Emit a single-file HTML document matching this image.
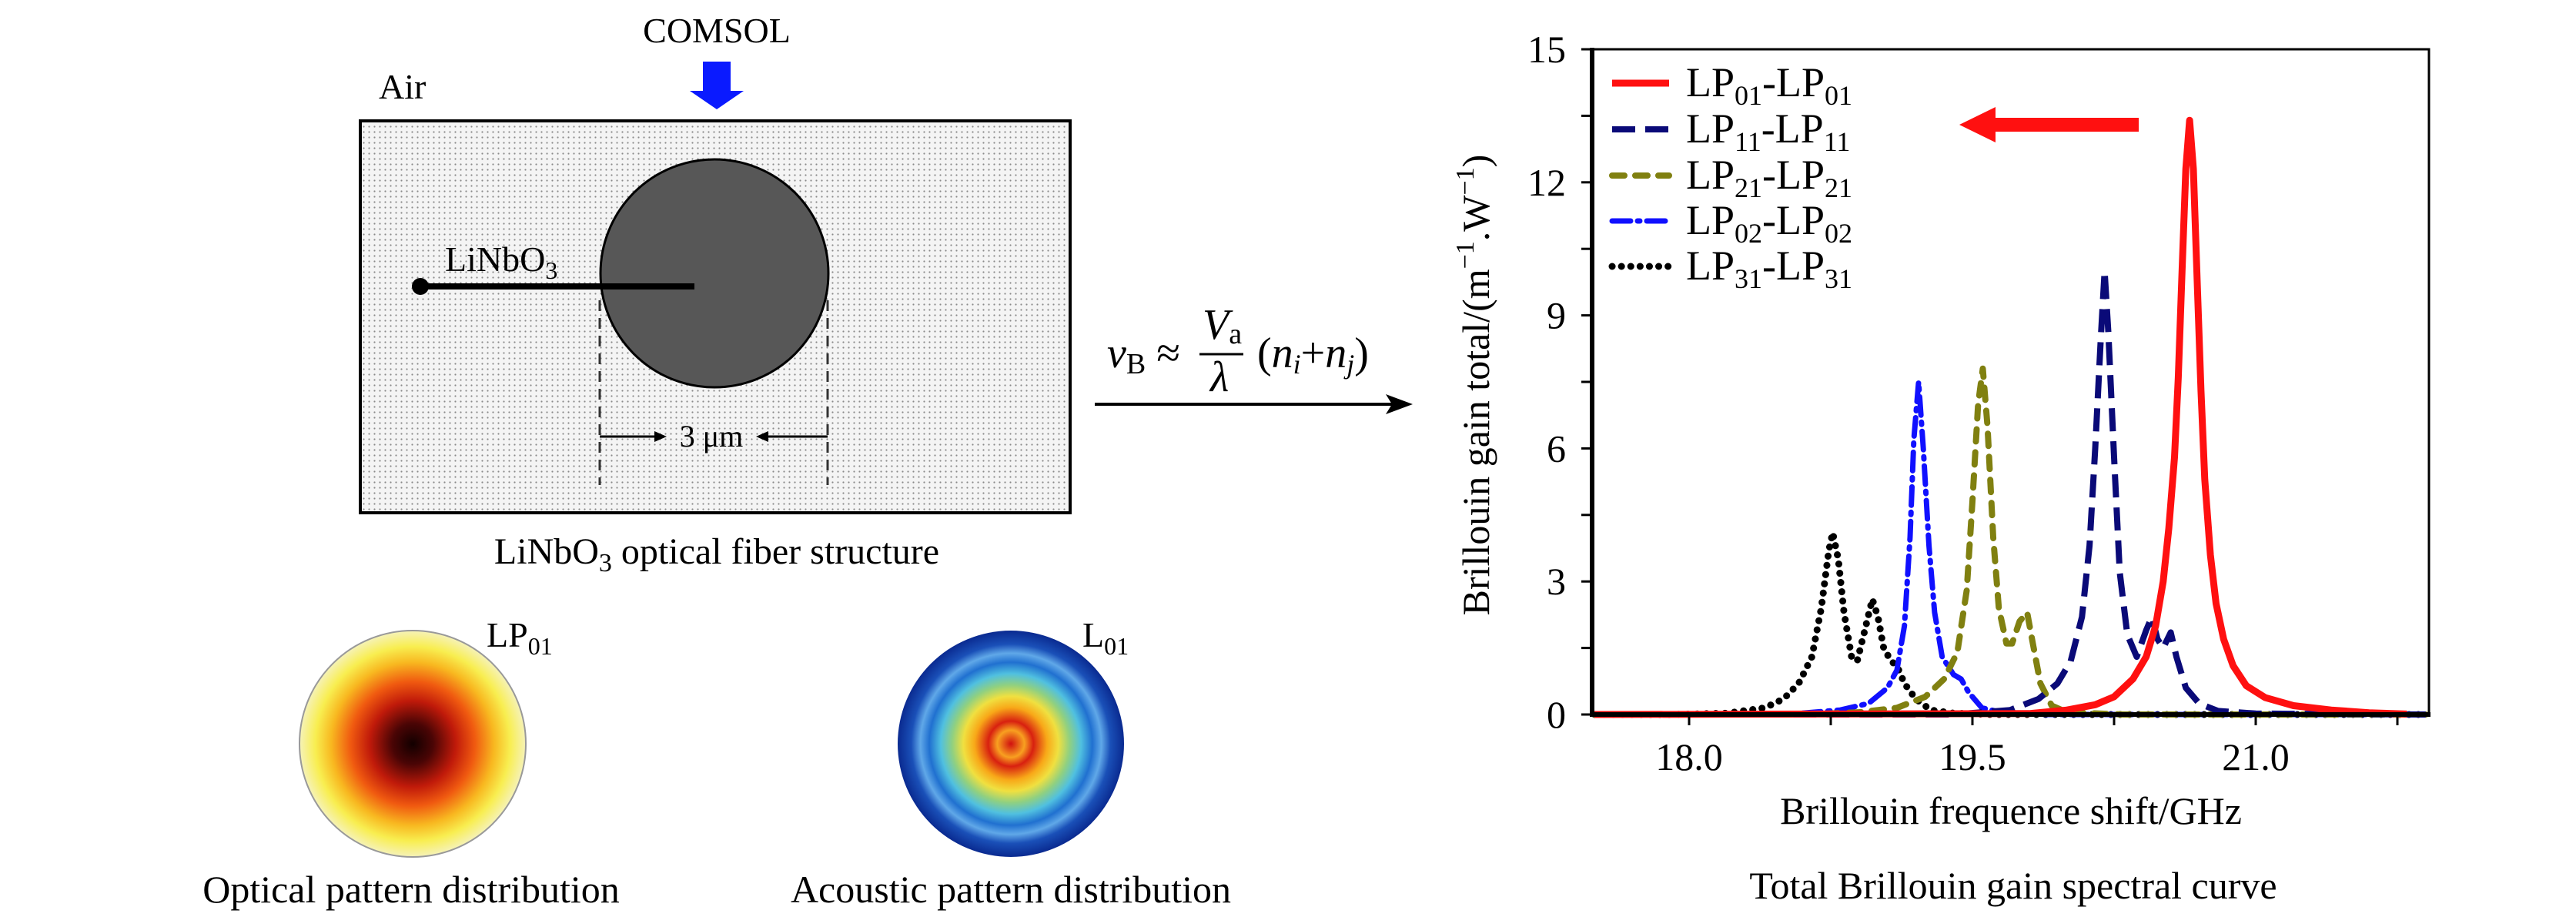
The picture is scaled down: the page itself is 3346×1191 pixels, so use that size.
<!DOCTYPE html>
<html><head><meta charset="utf-8"><style>
html,body{margin:0;padding:0;background:#fff;}
svg{display:block;font-family:"Liberation Serif",serif;}
</style></head><body>
<svg id="fig" xmlns="http://www.w3.org/2000/svg" width="3346" height="1191" viewBox="0 0 3346 1191">
<defs>
<pattern id="dots" width="7" height="7" patternUnits="userSpaceOnUse"><rect width="7" height="7" fill="#f4f4f4"/><circle cx="3.5" cy="3.5" r="1.1" fill="#8a8a8a"/></pattern>
<radialGradient id="optg"><stop offset="0" stop-color="#120000"/><stop offset="0.18" stop-color="#4a0505"/><stop offset="0.38" stop-color="#c01a0a"/><stop offset="0.55" stop-color="#f05a10"/><stop offset="0.72" stop-color="#f8b820"/><stop offset="0.86" stop-color="#f8ee50"/><stop offset="1" stop-color="#f6f2b8"/></radialGradient>
<radialGradient id="acg"><stop offset="0" stop-color="#d01010"/><stop offset="0.12" stop-color="#f8a020"/><stop offset="0.2" stop-color="#d82010"/><stop offset="0.32" stop-color="#f8a818"/><stop offset="0.42" stop-color="#f0e040"/><stop offset="0.52" stop-color="#90d080"/><stop offset="0.62" stop-color="#50c0e0"/><stop offset="0.72" stop-color="#2070d0"/><stop offset="0.8" stop-color="#60a8e8"/><stop offset="0.88" stop-color="#1a50b8"/><stop offset="1" stop-color="#0a2a90"/></radialGradient>
</defs>

<text x="931" y="55" font-size="46" text-anchor="middle">COMSOL</text>
<g><rect x="913" y="80" width="36" height="40" fill="#0a1aff"/><polygon points="896,118 966,118 931,142" fill="#0a1aff"/></g>
<text x="492" y="128" font-size="46">Air</text>
<rect x="468" y="157" width="922" height="509" fill="url(#dots)" stroke="#000" stroke-width="4"/>
<circle cx="928" cy="355" r="148" fill="#575757" stroke="#000" stroke-width="3"/>
<line x1="546" y1="372" x2="902" y2="372" stroke="#000" stroke-width="8"/>
<circle cx="546" cy="372" r="11" fill="#000"/>
<text x="578" y="352" font-size="46">LiNbO<tspan font-size="32" dy="10">3</tspan></text>
<line x1="779" y1="390" x2="779" y2="630" stroke="#333" stroke-width="3" stroke-dasharray="14,9"/>
<line x1="1075" y1="390" x2="1075" y2="630" stroke="#333" stroke-width="3" stroke-dasharray="14,9"/>
<g>
<line x1="779" y1="567" x2="858" y2="567" stroke="#000" stroke-width="3"/><polygon points="866,567 850,560 850,574"/>
<line x1="990" y1="567" x2="1075" y2="567" stroke="#000" stroke-width="3"/><polygon points="982,567 998,560 998,574"/>
<text x="924" y="580" font-size="40" text-anchor="middle">3 μm</text></g>
<text x="931" y="732" font-size="48" text-anchor="middle">LiNbO<tspan font-size="34" dy="10">3</tspan><tspan dy="-10"> optical fiber structure</tspan></text>

<g font-style="italic">
<text x="1438" y="477" font-size="56">v<tspan font-style="normal" font-size="38" dy="8">B</tspan><tspan font-style="normal" dy="-8"> ≈</tspan></text>
<text x="1562" y="440" font-size="56">V<tspan font-style="normal" font-size="38" dy="6">a</tspan></text>
<line x1="1558" y1="460" x2="1615" y2="460" stroke="#000" stroke-width="3"/>
<text x="1572" y="508" font-size="56">λ</text>
<text x="1633" y="477" font-size="56"><tspan font-style="normal">(</tspan>n<tspan font-size="36" dy="8">i</tspan><tspan font-style="normal" dy="-8">+</tspan>n<tspan font-size="36" dy="8">j</tspan><tspan font-style="normal" dy="-8">)</tspan></text>
</g>
<g><line x1="1422" y1="525" x2="1815" y2="525" stroke="#000" stroke-width="4"/><polygon points="1835,525 1800,512 1808,525 1800,538"/></g>

<circle cx="536" cy="966" r="147" fill="url(#optg)" stroke="#999" stroke-width="2"/>
<text x="632" y="840" font-size="46">LP<tspan font-size="32" dy="10">01</tspan></text>
<circle cx="1313" cy="966" r="147" fill="url(#acg)"/>
<text x="1406" y="840" font-size="46">L<tspan font-size="32" dy="10">01</tspan></text>
<text x="534" y="1172" font-size="50" text-anchor="middle">Optical pattern distribution</text>
<text x="1313" y="1172" font-size="50" text-anchor="middle">Acoustic pattern distribution</text>

<g id="chart"></g>
</svg>
<script>
const xTicks=[18.0,19.5,21.0];
const xTickLabels=["18.0","19.5","21.0"];
const yTicks=[0,3,6,9,12,15];
const yTickLabels=["0","3","6","9","12","15"];
const seriesNames=["LP01-LP01","LP11-LP11","LP21-LP21","LP02-LP02","LP31-LP31"];
const lp01X=[17.5,19.8,20.0,20.15,20.25,20.35,20.42,20.47,20.51,20.54,20.57,20.59,20.61,20.63,20.65,20.67,20.69,20.71,20.73,20.76,20.79,20.83,20.88,20.95,21.05,21.2,21.4,21.6,21.8];
const lp01Y=[0,0.02,0.1,0.22,0.4,0.8,1.3,2.0,3.0,4.2,5.8,7.6,10,12.3,13.4,12.3,9.8,7.3,5.3,3.6,2.5,1.7,1.1,0.65,0.38,0.2,0.1,0.04,0.01];
const lp11X=[17.5,19.4,19.7,19.85,19.95,20.02,20.08,20.12,20.15,20.18,20.2,20.22,20.25,20.28,20.32,20.37,20.42,20.45,20.48,20.51,20.55,20.58,20.63,20.7,20.8,21.0,21.9];
const lp11Y=[0,0,0.1,0.35,0.7,1.2,2.2,3.8,6,8.5,10,8.6,5.8,3.2,1.8,1.3,1.9,2.2,1.7,1.5,1.85,1.3,0.6,0.25,0.08,0.02,0];
const lp21X=[17.5,18.6,18.9,19.1,19.25,19.35,19.42,19.47,19.5,19.53,19.555,19.58,19.61,19.64,19.68,19.71,19.75,19.79,19.82,19.86,19.92,20.0,20.3,21.9];
const lp21Y=[0,0,0.05,0.15,0.4,0.8,1.4,2.8,4.8,7,7.8,6.5,4,2.4,1.6,1.6,2.1,2.3,1.6,0.7,0.2,0.05,0,0];
const lp02X=[17.5,18.2,18.6,18.8,18.95,19.05,19.1,19.14,19.17,19.19,19.215,19.24,19.27,19.3,19.34,19.4,19.44,19.48,19.55,19.65,19.9,21.9];
const lp02Y=[0,0,0.03,0.1,0.25,0.6,1,2,4,6.2,7.5,6,3.8,2.3,1.3,0.9,0.8,0.5,0.15,0.05,0,0];
const lp31X=[17.5,17.9,18.2,18.4,18.5,18.58,18.65,18.7,18.74,18.76,18.79,18.82,18.86,18.89,18.93,18.97,19.0,19.03,19.07,19.1,19.14,19.2,19.28,19.4,19.6,21.9];
const lp31Y=[0,0,0.03,0.15,0.35,0.7,1.3,2.4,3.7,4.1,3.5,2.3,1.3,1.2,1.9,2.6,2.2,1.5,1.2,1.1,0.7,0.35,0.1,0.03,0,0];

const NS="http://www.w3.org/2000/svg";
const g=document.getElementById('chart');
const L=2068,R=3155,T=64,B=928;
const x0=18.0,x1=21.0,px0=2194,px1=2930;
function sx(v){return px0+(v-x0)*(px1-px0)/(x1-x0);}
function sy(v){return B-(v/15)*(B-T);}
function mk(tag,attrs){const e=document.createElementNS(NS,tag);for(const k in attrs)e.setAttribute(k,attrs[k]);g.appendChild(e);return e;}

const styles=[
 {c:"#ff1010",w:9,d:"",cap:"butt"},
 {c:"#0a0a78",w:8,d:"30,13",cap:"butt"},
 {c:"#808010",w:8,d:"16,14",cap:"round"},
 {c:"#1010ff",w:7,d:"24,9,3,9",cap:"round"},
 {c:"#000",w:9,d:"0.1,12",cap:"round"}];
const xs=[lp01X,lp11X,lp21X,lp02X,lp31X];
const ys=[lp01Y,lp11Y,lp21Y,lp02Y,lp31Y];
const ids=["series-lp01","series-lp11","series-lp21","series-lp02","series-lp31"];
const order=[4,3,2,1,0];
for(const i of order){
  let d="";
  for(let j=0;j<xs[i].length;j++){d+=(j?"L":"M")+sx(xs[i][j]).toFixed(1)+","+sy(ys[i][j]).toFixed(1);}
  const p=mk('path',{d:d,fill:"none",stroke:styles[i].c,"stroke-width":styles[i].w,"stroke-linejoin":"round","stroke-linecap":styles[i].cap});
  if(styles[i].d)p.setAttribute('stroke-dasharray',styles[i].d);
  
  
}
const fr=mk('rect',{x:L,y:T,width:R-L,height:B-T,fill:"none",stroke:"#000","stroke-width":3});


mk('line',{x1:L,y1:T-2,x2:L,y2:B+3,stroke:"#000","stroke-width":6});
mk('line',{x1:L-3,y1:B,x2:R+2,y2:B,stroke:"#000","stroke-width":6});
for(let v=0;v<=15;v+=1.5){mk('line',{x1:L-14,y1:sy(v),x2:L,y2:sy(v),stroke:"#000","stroke-width":3});}
yTicks.forEach((v,i)=>{const t=mk('text',{x:2034,y:sy(v)+17,"font-size":50,"text-anchor":"end"});t.textContent=yTickLabels[i];
 
 });
for(let v=17.25;v<=21.9;v+=0.75){if(v<17.5)continue;mk('line',{x1:sx(v),y1:B,x2:sx(v),y2:B+14,stroke:"#000","stroke-width":3});}
xTicks.forEach((v,i)=>{const t=mk('text',{x:sx(v),y:1000,"font-size":50,"text-anchor":"middle"});t.textContent=xTickLabels[i];
 
 });
const xt=mk('text',{x:2612,y:1070,"font-size":50,"text-anchor":"middle"});xt.textContent="Brillouin frequence shift/GHz";


const yt=mk('text',{x:0,y:0,"font-size":50,"text-anchor":"middle",transform:"translate(1934,500) rotate(-90)"});
yt.innerHTML='Brillouin gain total/(m<tspan font-size="34" dy="-20">−1</tspan><tspan dy="20">.W</tspan><tspan font-size="34" dy="-20">−1</tspan><tspan dy="20">)</tspan>';


const cap=mk('text',{x:2615,y:1167,"font-size":50,"text-anchor":"middle"});cap.textContent="Total Brillouin gain spectral curve";


const legY=[108,168,228,287,346];
const subs=["01","11","21","02","31"];
for(let i=0;i<5;i++){
  const ln=mk('line',{x1:2094,y1:legY[i],x2:2168,y2:legY[i],stroke:styles[i].c,"stroke-width":styles[i].w,"stroke-linecap":styles[i].cap});
  if(styles[i].d)ln.setAttribute('stroke-dasharray',styles[i].d);
  
  
  const t=mk('text',{x:2190,y:legY[i]+17,"font-size":54});
  t.innerHTML='LP<tspan font-size="36" dy="11">'+subs[i]+'</tspan><tspan dy="-11">-LP</tspan><tspan font-size="36" dy="11">'+subs[i]+'</tspan>';
  
  
}
const ar=mk('path',{d:"M2778,153 L2592,153 L2592,139 L2545,162 L2592,185 L2592,171 L2778,171 Z",fill:"#ff1010"});


</script>
</body></html>
